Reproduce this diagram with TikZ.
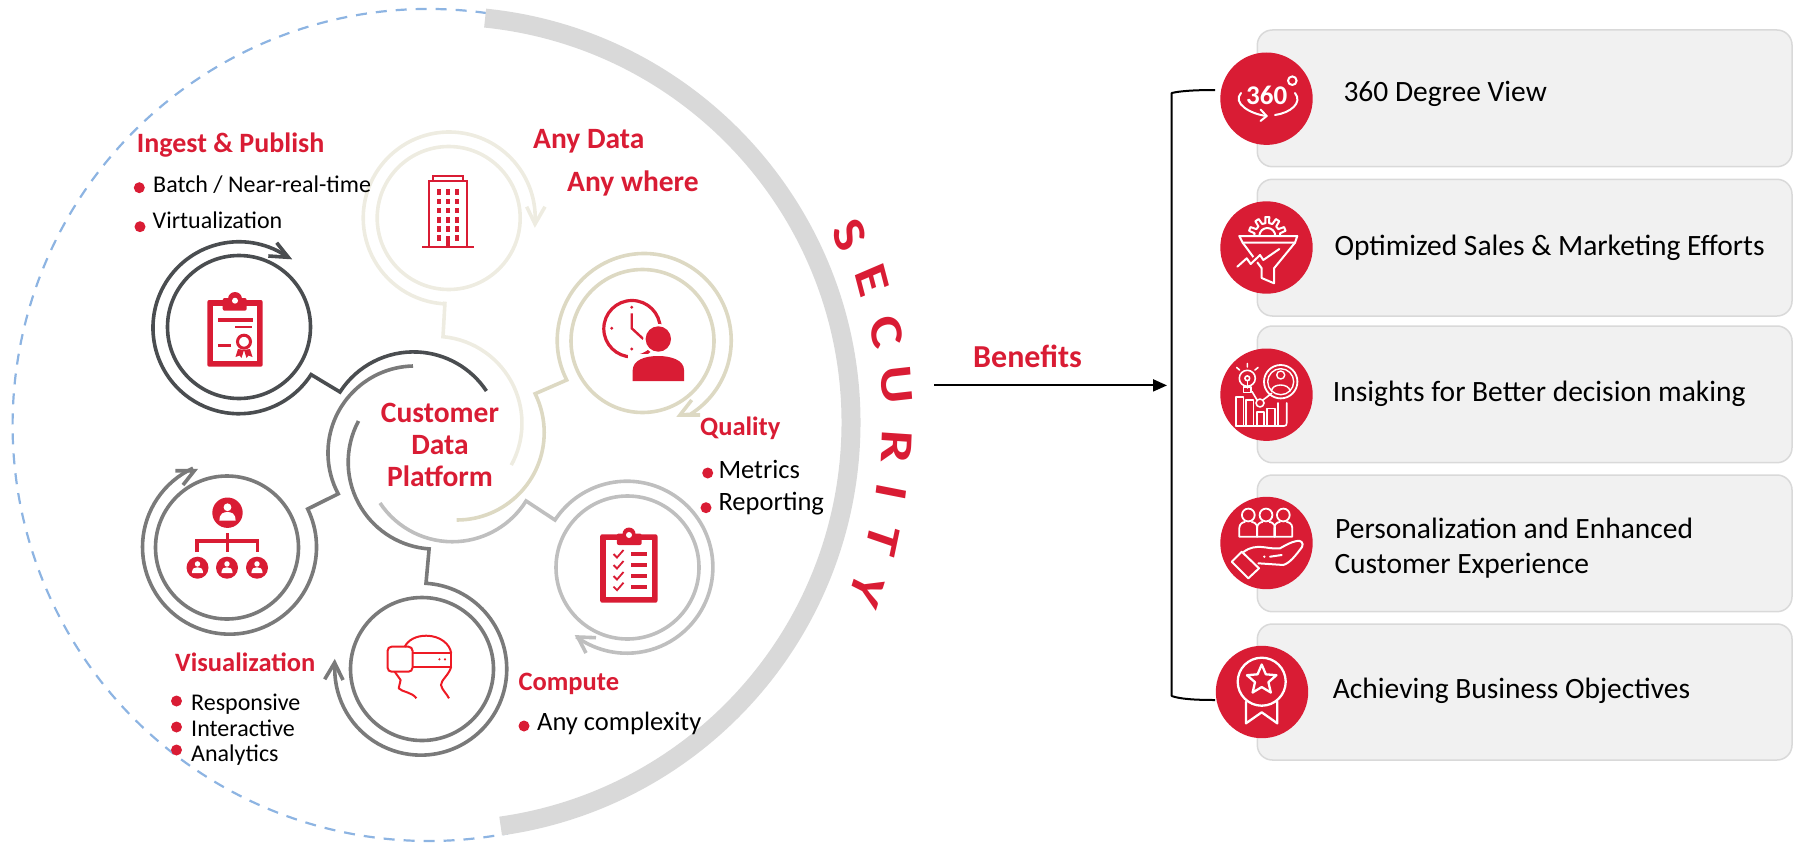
\documentclass[tikz,border=0pt]{standalone}
\usepackage{fontspec}
\setmainfont{Carlito}
\usetikzlibrary{shapes.geometric,arrows.meta}
\definecolor{cred}{HTML}{D91C34}
\definecolor{vrred}{HTML}{EE1A24}
\definecolor{cdark}{HTML}{4A4D50}
\definecolor{cgrey}{HTML}{7A7A7A}
\definecolor{clight}{HTML}{BFBFBF}
\definecolor{cbeige}{HTML}{DDD9C3}
\definecolor{ccream}{HTML}{EEECE1}
\definecolor{csec}{HTML}{D9D9D9}
\definecolor{cdash}{HTML}{8DB4E2}
\definecolor{ccard}{HTML}{F1F1F1}
\tikzset{
  ring/.style={line width=3.6pt,line join=miter,miter limit=10},
  ringc/.style={circle,draw,line width=3.6pt,inner sep=0pt,minimum size=143pt},
  card/.style={fill=ccard,draw=csec,line width=1.5pt,rounded corners=15pt},
  iconc/.style={circle,fill=cred,inner sep=0pt,minimum size=92.4pt},
  wic/.style={draw=white,line width=2pt,line join=round,line cap=round},
  body/.style={anchor=base west,inner sep=0pt,font=\fontsize{24}{28}\selectfont},
  bodyb/.style={anchor=base west,inner sep=0pt,font=\fontsize{26.5}{30}\selectfont},
  head/.style={anchor=base west,inner sep=0pt,text=cred,font=\bfseries\fontsize{29.5}{32}\selectfont},
  heads/.style={anchor=base west,inner sep=0pt,text=cred,font=\bfseries\fontsize{26.5}{32}\selectfont},
  item/.style={anchor=base west,inner sep=0pt,font=\fontsize{29.5}{34}\selectfont},
  dot/.style={circle,fill=cred,inner sep=0pt,minimum size=11pt},
  secl/.style={text=cred,inner sep=0pt,font=\bfseries\fontsize{46}{46}\selectfont,yscale=1.28,transform shape}
}
\newcommand{\chev}[4]{\draw[ring,draw=#1] #2 -- #3 -- #4;}
\newcommand{\clipb}[4]{% outer x1 y1 x2 y2
  \fill[cred,rounded corners=2pt] (#1,#2) rectangle (#3,#4);
  \fill[white] (#1+5.5,#2+5.5) rectangle (#3-5.5,#4-5.5);
}
\newcommand{\redperson}[3]{%
  \begin{scope}[shift={(#1,#2)},scale=#3]
    \fill[white] (0,-.42) circle (.30);
    \fill[white] (-.62,.6) .. controls (-.62,.05) and (-.3,-.05) .. (0,-.05) .. controls (.3,-.05) and (.62,.05) .. (.62,.6) -- cycle;
  \end{scope}}
\begin{document}
\begin{tikzpicture}[x=1pt,y=-1pt]
\useasboundingbox (0,0) rectangle (1793,843);

% big circle
\coordinate (dashS) at ({428.6+416*cos(82)},{425-416*sin(82)});
\draw[cdash,line width=2.2pt,dash pattern=on 11pt off 9pt] (dashS) arc[start angle=-82,end angle=-281,radius=416];
\draw[csec,line width=19pt] ({444+407*cos(84.2)},{423-407*sin(84.2)}) arc[start angle=-84.2,end angle=82,radius=407];

% SECURITY
\node[secl,rotate=-65] (sS) at (850,235) {S};
\node[secl,rotate=-71.5] (sE) at (871.7,280) {E};
\node[secl,rotate=-78.4] (sC) at (886.7,331.7) {C};
\node[secl,rotate=-85] (sU) at (896.7,385) {U};
\node[secl,rotate=-93] (sR) at (896.7,446.7) {R};
\node[secl,rotate=-98.7] (sI) at (891.7,491.7) {I};
\node[secl,rotate=-105] (sT) at (883.3,540) {T};
\node[secl,rotate=-111.6] (sY) at (866.7,590) {Y};

% building ring + cream arc
\node[ringc,draw=ccream] (rB) at (448.7,218) {};
\draw[ring,draw=ccream] (535,224) arc[start angle=4,end angle=-267,radius=86] -- (445,301.7) -- (443,336.7) arc[start angle=-84.7,end angle=28.7,radius=87];
\chev{ccream}{(526.7,206.7)}{(535,224)}{(545,206.7)}

% quality ring + beige arc
\node[ringc,draw=cbeige] (rQ) at (642.5,341) {};
\draw[ring,draw=cbeige] (456.7,520) arc[start angle=90,end angle=-26.3,radius=87.5] -- (566.7,380) arc[start angle=-207,end angle=58,radius=87] -- (680,415);
\chev{cbeige}{(691.7,400)}{(680,415)}{(700,415)}

% checklist ring + light arc
\node[ringc,draw=clight] (rC) at (627.5,567.5) {};
\draw[ring,draw=clight] (380,503) arc[start angle=-213.7,end angle=-327.9,radius=87] -- (555,520) arc[start angle=-146.7,end angle=126,radius=86];
\chev{clight}{(596,637.7)}{(577.7,637)}{(586,653)}

% VR ring + arc
\node[ringc,draw=cgrey] (rV) at (422,669) {};
\draw[ring,draw=cgrey] (358.5,421) arc[start angle=-151.8,end angle=-266,radius=87] -- (426,583.3) arc[start angle=-86.5,end angle=184,radius=86];
\chev{cgrey}{(324.7,679.3)}{(334.6,662.7)}{(343,680)}

% org ring + arc
\node[ringc,draw=cgrey] (rO) at (227,547.5) {};
\draw[ring,draw=cgrey] (413,366) arc[start angle=-91.3,end angle=-208,radius=87] -- (307.7,509) arc[start angle=-26,end angle=245.2,radius=87];
\chev{cgrey}{(175.3,470.7)}{(194.3,470.7)}{(183,485)}

% ingest ring + dark arc
\node[ringc,draw=cdark] (rI) at (239,327) {};
\draw[ring,draw=cdark] (288.3,257.3) arc[start angle=-55,end angle=-327,radius=86] -- (340,392) arc[start angle=-147.2,end angle=-33.6,radius=87.5];
\chev{cdark}{(276.7,242.7)}{(288.3,257.3)}{(268.3,256)}

% certificate icon
\clipb{207.3}{300}{262.7}{366.7}
\fill[cred,rounded corners=2pt] (222.7,310.7) rectangle (246.7,298);
\fill[cred] (235,299) circle (7);
\fill[white] (235,300.7) circle (3);
\fill[cred] (218.3,318.3) rectangle (252.7,321.7);
\fill[cred] (235,325.7) rectangle (252.3,328.3);
\fill[cred] (218.3,344.3) rectangle (231,347.3);
\draw[cred,line width=3pt] (244,341.7) circle (6.5);
\fill[cred] (238,349) -- (235.5,357) -- (239.5,355.5) -- (241.5,358) -- (244,350) -- cycle;
\fill[cred] (250,349) -- (252.5,357) -- (248.5,355.5) -- (246.5,358) -- (244,350) -- cycle;

% building icon
\draw[cred,line width=1.7pt] (429.3,246) -- (429.3,181) -- (466.7,181) -- (466.7,246);
\draw[cred,line width=1.7pt] (433.3,181) -- (433.3,176) -- (462.7,176) -- (462.7,181);
\draw[cred,line width=1.7pt] (422,246.7) -- (474,246.7);
\foreach \yy/\yb in {189.3/195,198.7/204,207.7/213.3,217.3/222.7,226.3/232,235/240.7}{
  \fill[cred] (437,\yy) rectangle (441,\yb);
  \fill[cred] (455,\yy) rectangle (459,\yb);
}
\foreach \yy/\yb in {189.3/195,198.7/204,207.7/213.3,217.3/222.7,226.3/232}{
  \fill[cred] (446,\yy) rectangle (450,\yb);
}
\fill[cred] (446,236) rectangle (449.5,246);

% clock + person icon
\draw[cred,line width=3.2pt] (632,328.7) circle (28.2);
\fill[cred] (631.7,307.3) circle (1.6) (611.7,328.3) circle (1.6) (631.7,349) circle (1.6);
\draw[cred,line width=2.4pt] (631.7,313.3) -- (631.7,328.3) -- (643.3,339);
\fill[white] (658.3,339) circle (15);
\fill[cred] (658.3,339) circle (12.7);
\fill[white] (628,381) rectangle (690,353.5);
\fill[cred] (632.7,381) -- (632.7,370) .. controls (633,360) and (645,356) .. (658,356) .. controls (671,356) and (684,360) .. (684,370) -- (684,381) -- cycle;

% checklist icon
\clipb{600.2}{534.3}{657.5}{602.7}
\fill[cred] (629,534) circle (6.5);
\fill[cred,rounded corners=2pt] (616.8,545) rectangle (641.7,533.5);
\fill[white] (629,535) circle (3);
\foreach \yy in {554,565,576,586.7}{
  \draw[cred,line width=1.8pt] (613.5,\yy) -- (617,\yy+3.5) -- (623.5,\yy-4);
  \fill[cred] (630.7,\yy-2) rectangle (647,\yy+2);
}

% org icon
\fill[cred] (227.5,512.7) circle (15.2);
\redperson{227.5}{512.7}{13}
\draw[cred,line width=3.4pt] (227.5,533) -- (227.5,552) (197,552) -- (197,541) -- (257.5,541) -- (257.5,552);
\foreach \xx in {197.5,227,257}{
  \fill[cred] (\xx,567.7) circle (11);
  \redperson{\xx}{567.7}{9}
}

% VR icon
\draw[vrred,line width=2pt,rounded corners=4pt] (387.6,646.7) rectangle (412.5,671.7);
\draw[vrred,line width=2pt] (412.5,653.3) -- (451.2,653.3) -- (451.2,666.7) -- (412.5,666.7);
\draw[vrred,line width=2pt] (404.6,647) .. controls (408,640) and (416,635.7) .. (426.3,635.7) .. controls (440,635.7) and (450,644) .. (451.2,653.3);
\fill[vrred] (439.4,659.3) circle (1.2) (445,659.3) circle (1.2);
\draw[vrred,line width=2pt,line join=round] (394.7,671.7) -- (400.6,680) -- (398.7,688.3) .. controls (402,692) and (412,692) .. (416.4,698.3);
\draw[vrred,line width=2pt] (451.2,666.7) .. controls (449,675) and (441,680) .. (441,685) .. controls (442,690) and (447,694) .. (449,698.3);

% left texts
\node[head,font=\bfseries\fontsize{28}{32}\selectfont] (tIngest) at (136.7,152.7) {Ingest \& Publish};
\node[dot] (d1) at (139.3,187.7) {};
\node[body] (tBatch) at (153,192) {Batch / Near-real-time};
\node[dot] (d2) at (140,226.7) {};
\node[body] (tVirt) at (152.5,228) {Virtualization};
\node[head] (tAny1) at (533,148) {Any Data};
\node[head] (tAny2) at (567,191.7) {Any where};
\node[head,align=center,anchor=center] (tCDP) at (440,445) {Customer\\Data\\Platform};
\node[heads] (tQual) at (700,435) {Quality};
\node[dot] (d3) at (707.7,473) {};
\node[bodyb] (tMet) at (718.3,478) {Metrics};
\node[dot] (d4) at (706,507.7) {};
\node[bodyb] (tRep) at (718.3,510) {Reporting};
\node[heads] (tComp) at (518.4,690) {Compute};
\node[dot] (d5) at (524,726) {};
\node[bodyb] (tAnyC) at (537,730) {Any complexity};
\node[heads] (tVis) at (175,671.7) {Visualization};
\node[dot] (d6) at (176.5,701) {};
\node[body] (tResp) at (191,710) {Responsive};
\node[dot] (d7) at (176.5,727) {};
\node[body] (tInt) at (191,736) {Interactive};
\node[dot] (d8) at (176.5,750) {};
\node[body] (tAna) at (191,761.7) {Analytics};

% benefits
\node[heads,font=\bfseries\fontsize{32}{36}\selectfont] (tBen) at (973,367) {Benefits};
\coordinate (aS) at (934,385.4);
\coordinate (aE) at (1167,385.4);
\draw[line width=2pt,-{Triangle[length=14pt,width=12pt]}] (aS) -- (aE);

% cards
\draw[card] (1257.3,30) rectangle (1792,166.7);
\draw[card] (1257.3,179.3) rectangle (1792,316);
\draw[card] (1257.3,326) rectangle (1792,462.7);
\draw[card] (1257.3,475) rectangle (1792,611.7);
\draw[card] (1257.3,624) rectangle (1792,760);

% bracket
\coordinate (bT) at (1215,90);
\coordinate (bB) at (1215,700);
\draw[line width=2pt,line join=round] (bT) .. controls (1195,90) and (1180,91) .. (1171.7,93) -- (1171.7,696) .. controls (1180,699) and (1195,700) .. (bB);

% icon circles
\node[iconc] (c1) at (1266.5,98.7) {};
\node[iconc] (c2) at (1266.5,247.5) {};
\node[iconc] (c3) at (1266.5,394.7) {};
\node[iconc] (c4) at (1266.5,543) {};
\node[iconc] (c5) at (1262,692) {};

% 360
\node[text=white,inner sep=0pt,font=\bfseries\fontsize{27}{27}\selectfont] (t360) at (1266.7,95) {360};
\draw[wic] (1292.3,80.7) circle (4.3);
\draw[wic] (1241,93) .. controls (1232,103) and (1250,114) .. (1266.5,116);
\draw[wic] (1295,93) .. controls (1303,103) and (1290,113) .. (1275,115);
\draw[wic] (1260.5,109.5) -- (1266.7,116) -- (1260.5,121);

% funnel + gear
\begin{scope}[shift={(1267.3,236)}]
\draw[wic] (-2:13) -- (-12:13) -- (-16:19) -- (-28:19) -- (-32:13) -- (-47:13) -- (-51:19) -- (-63:19) -- (-67:13) -- (-82:13) -- (-84:19) -- (-96:19) -- (-98:13) -- (-113:13) -- (-117:19) -- (-129:19) -- (-133:13) -- (-148:13) -- (-152:19) -- (-164:19) -- (-168:13) -- (-178:13);
\draw[wic] (8,0) arc[start angle=0,end angle=-180,radius=8];
\end{scope}
\draw[wic] (1239.3,236) -- (1297.3,236) -- (1295,242.7) -- (1242.7,242.7) -- cycle;
\draw[wic] (1242.7,242.7) -- (1261.7,268.3) -- (1261.7,278) -- (1274,283.3) -- (1274,268.3) -- (1295,242.7);
\draw[cred,line width=6pt,line cap=round,line join=round] (1237.3,266.7) -- (1246.7,258.3) -- (1250.7,264) -- (1260,255) -- (1263.3,260) -- (1279.3,249);
\draw[wic] (1237.3,266.7) -- (1246.7,258.3) -- (1250.7,264) -- (1260,255) -- (1263.3,260) -- (1279.3,249);

% insights
\draw[wic,line width=1.6pt] (1247.3,378.3) circle (8);
\draw[wic,line width=1.6pt] (1247.3,378.3) circle (2.4);
\draw[wic,line width=1.6pt] (1247.3,381) -- (1247.3,388) (1243.5,387) rectangle (1251,392.5);
\draw[wic,line width=1.6pt] (1247.3,363.5) -- (1247.3,367) (1236.7,367.5) -- (1239.5,370) (1258,367.5) -- (1255,370);
\draw[wic,line width=1.8pt] (1280.7,381.7) circle (16.7);
\draw[wic,line width=1.4pt] (1280.7,381.7) circle (13);
\draw[wic,line width=1.4pt] (1280.7,375) circle (4);
\draw[wic,line width=1.4pt] (1271.5,391) .. controls (1272,383) and (1289,383) .. (1290,391);
\draw[wic,line width=1.6pt] (1278,403) -- (1278,425) (1286.7,403) -- (1286.7,423) .. controls (1286.7,425) and (1286,426) .. (1284,426) -- (1236,426);
\draw[wic,line width=1.6pt] (1236,426) -- (1236,396.7) -- (1243.5,396.7) -- (1243.5,426) (1246,426) -- (1246,400) -- (1253.3,400) -- (1253.3,426) (1256.7,426) -- (1256.7,411.7) -- (1264,411.7) -- (1264,426) (1266.7,426) -- (1266.7,408.3) -- (1275,408.3) -- (1275,426);
\draw[wic,line width=1.6pt] (1252,391.5) -- (1257,400) (1263,400) -- (1271.7,393.3);
\draw[wic,line width=1.6pt] (1260,403) circle (4);

% hand + people
\foreach \xx in {1248.3,1266,1283.3}{
  \draw[wic,line width=1.8pt] (\xx,515) circle (6.4);
  \draw[wic,line width=1.8pt] (\xx-9,536.7) -- (\xx-9,528) .. controls (\xx-9,523.5) and (\xx-5,522) .. (\xx-3.5,522) (\xx+3.5,522) .. controls (\xx+5,522) and (\xx+9,523.5) .. (\xx+9,528) -- (\xx+9,536.7) -- (\xx-9,536.7);
}
\draw[wic] (1231.7,561.7) -- (1241.7,551.7) -- (1259,568.3) -- (1248.3,578.3) -- cycle;
\draw[wic] (1243.5,552) .. controls (1250,547) and (1256,546.7) .. (1262,547) .. controls (1268,547.5) and (1272,549) .. (1280,548.3) .. controls (1286,545) and (1291,542) .. (1296.7,541) .. controls (1301,540) and (1304,543) .. (1302,547) .. controls (1296,555) and (1290,563) .. (1283.3,565) -- (1258.3,563.3);
\draw[wic] (1270,556.7) -- (1281.7,555);
\fill[white] (1264.3,556.7) circle (1.3);

% badge
\draw[wic,line width=2.3pt] (1261.7,681.7) circle (24);
\node[star,star points=5,star point ratio=2.2,draw=white,line width=2.3pt,line join=round,inner sep=0pt,minimum size=31pt] (bStar) at (1261.7,680) {};
\draw[wic,line width=2.3pt] (1246,701.7) -- (1246,723.3) -- (1261.7,712.3) -- (1277.3,723.3) -- (1277.3,701.7);

% card texts
\node[item] (t1) at (1343.3,101.7) {360 Degree View};
\node[item] (t2) at (1334.3,255.3) {Optimized Sales \& Marketing Efforts};
\node[item] (t3) at (1332.7,401.7) {Insights for Better decision making};
\node[item] (t4a) at (1335,538.3) {Personalization and Enhanced};
\node[item] (t4b) at (1334.3,573.3) {Customer Experience};
\node[item] (t5) at (1332.7,698.3) {Achieving Business Objectives};
\end{tikzpicture}
\end{document}
